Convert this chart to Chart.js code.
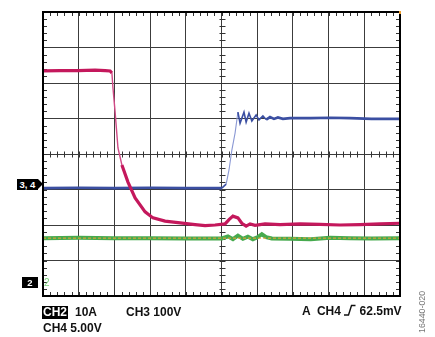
<!DOCTYPE html>
<html><head><meta charset="utf-8">
<script src="https://cdn.jsdelivr.net/npm/chart.js@4/dist/chart.umd.min.js"></script>
<style>
html,body{margin:0;padding:0;background:#fff;}
#wrap{position:relative;width:435px;height:337px;overflow:hidden;font-family:'Liberation Sans',Arial,sans-serif;}
canvas{position:absolute;left:0;top:0;}
.t{position:absolute;font-weight:bold;font-size:12px;color:#111;line-height:14px;white-space:pre;}
.inv{display:inline-block;background:#000;color:#fff;padding:0 1px;line-height:13px;height:13px;}
.mk{position:absolute;background:#000;color:#fff;font-weight:bold;font-size:9.5px;line-height:11px;height:11px;text-align:center;}
.arrow{position:absolute;width:0;height:0;border-left:5px solid #000;border-top:5.5px solid transparent;border-bottom:5.5px solid transparent;}
.g2{position:absolute;color:#7cd07c;font-size:10px;line-height:11px;}
.code{position:absolute;font-size:8.8px;color:#777;white-space:pre;transform-origin:0 0;transform:rotate(-90deg);}
</style></head>
<body>
<div id="wrap">
<canvas id="c" width="435" height="337"></canvas>
<div class="mk" id="m34" style="left:17px;width:21px;">3, 4</div>
<div class="arrow" id="a34" style="left:38px;"></div>
<div class="mk" id="m2" style="left:22px;width:16px;">2</div>
<div class="g2" id="g2" style="left:44px;">2</div>
<div class="t" style="left:42px;top:305px;"><span class="inv">CH2</span></div>
<div class="t" style="left:75px;top:305px;">10A</div>
<div class="t" style="left:126px;top:305px;">CH3 100V</div>
<div class="t" style="left:43px;top:321px;">CH4 5.00V</div>
<div class="t" style="left:302px;top:304px;">A  CH4 <svg width="12" height="12" viewBox="0 0 12 12" style="vertical-align:-1px"><path d="M0 11 H4.5 L7.5 1.5 H11.5" stroke="#111" stroke-width="1.4" fill="none"/></svg> 62.5mV</div>
<div class="code" style="left:417px;top:333px;">16440-020</div>
</div>
<script>
// grid divisions
const xMin = 0, xMax = 10, yMin = 0, yMax = 8;
const xTicks = [0,1,2,3,4,5,6,7,8,9,10];
const yTicks = [0,1,2,3,4,5,6,7,8];
const minorStep = 0.2;

// CH2 (magenta) — time in divisions, level in divisions
const ch2T = [0.00,0.48,0.98,1.46,1.74,1.88,1.93,1.96,2.02,2.10,2.21,2.38,2.58,2.86,3.08,3.42,3.84,4.26,4.54,4.82,5.10,5.21,5.32,5.46,5.57,5.69,5.80,5.94,6.22,6.64,7.20,7.76,8.32,8.88,9.44,10.00];
const ch2V = [6.34,6.35,6.35,6.36,6.35,6.34,6.28,5.86,5.18,4.17,3.69,3.21,2.76,2.37,2.20,2.11,2.06,2.01,1.98,2.00,2.03,2.15,2.25,2.20,2.05,1.97,2.03,1.99,2.03,2.01,2.03,2.02,2.00,2.01,2.03,2.05];

// CH3 (blue)
const ch3T = [0,1,2,3,4,5.01,5.13,5.21,5.29,5.38,5.46,5.52,5.63,5.69,5.77,5.85,5.97,6.05,6.16,6.25,6.36,6.47,6.58,6.72,6.92,7.5,8.04,8.6,9.2,10];
const ch3V = [3.04,3.05,3.04,3.05,3.04,3.04,3.15,3.55,4.11,4.59,5.18,4.87,5.18,4.90,5.15,4.93,5.10,4.96,5.07,4.97,5.04,4.99,5.03,4.99,5.01,5.01,5.02,5.01,4.99,4.99];

// CH4 (green)
const ch4T = [0,1,2,3,4,5.01,5.18,5.32,5.46,5.60,5.74,5.88,6.02,6.13,6.25,6.41,6.92,7.5,8.04,8.6,9.2,10];
const ch4V = [1.63,1.64,1.63,1.63,1.62,1.62,1.68,1.60,1.70,1.61,1.67,1.60,1.66,1.74,1.66,1.62,1.61,1.60,1.64,1.63,1.62,1.63];

// trigger level line
const trigT = [0,10];
const trigV = [1.63,1.63];

// channel marker levels
const marker34Level = 3.13;
const marker2Level = 0.38;

const pts = (t,v) => t.map((x,i)=>({x, y:v[i]}));
const steep = ctx => Math.abs(ctx.p1.y-ctx.p0.y) > 3*Math.abs(ctx.p1.x-ctx.p0.x);
const bigJump = ctx => Math.abs(ctx.p1.y-ctx.p0.y) > 12;
const wiggle = ctx => Math.abs(ctx.p1.y-ctx.p0.y) > 3;

const decor = {
  id:'decor',
  beforeDatasetsDraw(chart){
    const {ctx, chartArea:a, scales:{x,y}} = chart;
    ctx.save();
    ctx.strokeStyle='#333'; ctx.lineWidth=1;
    ctx.beginPath();
    const cy = Math.round(y.getPixelForValue((yMin+yMax)/2))+0.5;
    const cx = Math.round(x.getPixelForValue((xMin+xMax)/2))+0.5;
    for (let v=xMin; v<=xMax+1e-9; v+=minorStep){
      const px = Math.round(x.getPixelForValue(v))+0.5;
      ctx.moveTo(px,a.top); ctx.lineTo(px,a.top+4);
      ctx.moveTo(px,a.bottom); ctx.lineTo(px,a.bottom-4);
      ctx.moveTo(px,cy-3); ctx.lineTo(px,cy+3);
    }
    for (let v=yMin; v<=yMax+1e-9; v+=minorStep){
      const py = Math.round(y.getPixelForValue(v))+0.5;
      ctx.moveTo(a.left,py); ctx.lineTo(a.left+4,py);
      ctx.moveTo(a.right,py); ctx.lineTo(a.right-4,py);
      ctx.moveTo(cx-3,py); ctx.lineTo(cx+3,py);
    }
    ctx.stroke();
    ctx.restore();
  },
  afterDatasetsDraw(chart){
    const {ctx, chartArea:a} = chart;
    ctx.save();
    ctx.strokeStyle='#000'; ctx.lineWidth=2;
    ctx.strokeRect(a.left, a.top, a.right-a.left, a.bottom-a.top);
    ctx.fillStyle='#f0a030';
    ctx.fillRect(a.right-1, a.top-1, 2, 3);
    ctx.restore();
  }
};

const chart = new Chart(document.getElementById('c'), {
  type:'line',
  data:{ datasets:[
    { data:pts(ch2T,ch2V), borderColor:'#c4185c', borderWidth:3.2,
      segment:{ borderWidth: c => steep(c)?1.4:3.2, borderColor: c => steep(c)?'#d04a86':'#c4185c' } },
    { data:pts(ch3T,ch3V), borderColor:'#3b4fa2', borderWidth:2.6,
      segment:{ borderWidth: c => bigJump(c)?1.1:(wiggle(c)?1.6:2.6), borderColor: c => bigJump(c)?'#8a98d4':'#3b4fa2' } },
    { data:pts(trigT,trigV), borderColor:'#f2a431', borderWidth:1, borderDash:[3,2] },
    { data:pts(ch4T,ch4V), borderColor:'#46aa4e', borderWidth:4 }
  ]},
  options:{
    responsive:false, animation:false, devicePixelRatio:1,
    layout:{ padding:{ left:43, top:12, right:35, bottom:41 } },
    elements:{ point:{ radius:0, hoverRadius:0 }, line:{ tension:0, fill:false } },
    plugins:{ legend:{display:false}, tooltip:{enabled:false}, title:{display:false} },
    events:[],
    scales:{
      x:{ type:'linear', min:xMin, max:xMax,
          afterBuildTicks: s => { s.ticks = xTicks.map(v=>({value:v})); },
          ticks:{ display:false }, border:{ display:false },
          grid:{ color:'#3c3c3c', lineWidth:1, drawTicks:false } },
      y:{ type:'linear', min:yMin, max:yMax,
          afterBuildTicks: s => { s.ticks = yTicks.map(v=>({value:v})); },
          ticks:{ display:false }, border:{ display:false },
          grid:{ color:'#3c3c3c', lineWidth:1, drawTicks:false } }
    }
  },
  plugins:[decor]
});

const ys = chart.scales.y;
const p34 = ys.getPixelForValue(marker34Level);
document.getElementById('m34').style.top = (p34-5.5)+'px';
document.getElementById('a34').style.top = (p34-5.5)+'px';
const p2 = ys.getPixelForValue(marker2Level);
document.getElementById('m2').style.top = (p2-5.5)+'px';
document.getElementById('g2').style.top = (p2-5.5)+'px';
</script>
</body></html>
